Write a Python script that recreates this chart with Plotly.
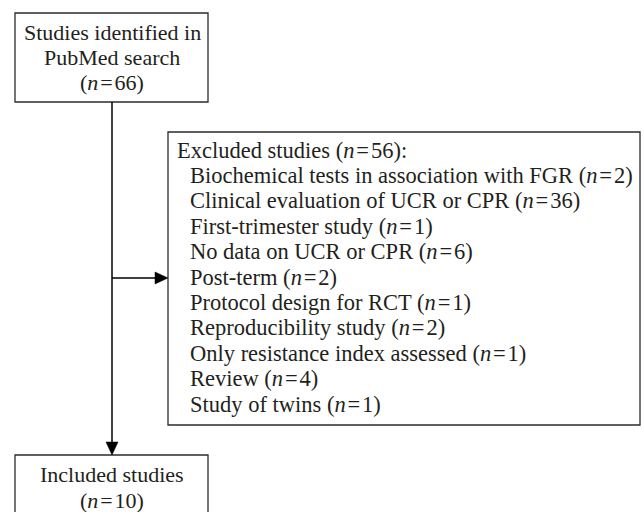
import plotly.graph_objects as go

# ---- data ----
identified_label = ["Studies identified in", "PubMed search"]
identified_n = 66
excluded_label = "Excluded studies"
excluded_n = 56
reasons = [
    "Biochemical tests in association with FGR",
    "Clinical evaluation of UCR or CPR",
    "First-trimester study",
    "No data on UCR or CPR",
    "Post-term",
    "Protocol design for RCT",
    "Reproducibility study",
    "Only resistance index assessed",
    "Review",
    "Study of twins",
]
reason_counts = [2, 36, 1, 6, 2, 1, 2, 1, 4, 1]
included_label = ["Included studies"]
included_n = 10

# ---- layout constants (pixels of the 644x512 page) ----
W, H = 644, 512
FONT = "Liberation Serif"
FS = 22
TXT = "#231f20"
LINE = "#2b2b2b"
LH = 25.4

def nstr(n):
    return "(<i>n</i>\u200a=\u200a%d)" % n

fig = go.Figure()
fig.add_trace(go.Scatter(x=[0, W], y=[0, H], mode="markers",
                         marker=dict(opacity=0), hoverinfo="skip", showlegend=False))

shapes = []
ann = []

def box(x0, y0, x1, y1):
    shapes.append(dict(type="rect", x0=x0, y0=y0, x1=x1, y1=y1,
                       line=dict(color=LINE, width=1.3), fillcolor="rgba(0,0,0,0)"))

def text(x, y, s, anchor="center", size=FS):
    ann.append(dict(x=x, y=y, xref="x", yref="y", text=s, showarrow=False,
                    xanchor=anchor, yanchor="middle",
                    font=dict(family=FONT, size=size, color=TXT)))

# top box
box(15, 13, 208, 102)
top_lines = identified_label + [nstr(identified_n)]
for i, s in enumerate(top_lines):
    text(112, 32 + i * LH, s)

# excluded box
box(168, 132, 640, 425)
text(175, 150, "%s %s:" % (excluded_label, nstr(excluded_n)), anchor="left", size=22.5)
for i, (r, c) in enumerate(zip(reasons, reason_counts)):
    text(188, 150 + (i + 1) * LH, "%s %s" % (r, nstr(c)), anchor="left", size=22.5)

# bottom box (extends past bottom edge)
box(15, 455, 208, 540)
bot_lines = included_label + [nstr(included_n)]
for i, s in enumerate(bot_lines):
    text(112, 474 + i * 26, s)

# connectors
shapes.append(dict(type="line", x0=112, y0=102, x1=112, y1=444,
                   line=dict(color="black", width=1.5)))
shapes.append(dict(type="line", x0=112, y0=278, x1=158, y1=278,
                   line=dict(color="black", width=1.5)))
# arrowheads
shapes.append(dict(type="path", path="M 106 442 L 118 442 L 112 455 Z",
                   fillcolor="black", line=dict(color="black", width=0.5)))
shapes.append(dict(type="path", path="M 155 272 L 155 284 L 168 278 Z",
                   fillcolor="black", line=dict(color="black", width=0.5)))

fig.update_layout(
    width=W, height=H, margin=dict(l=0, r=0, t=0, b=0),
    paper_bgcolor="white", plot_bgcolor="white",
    xaxis=dict(range=[0, W], visible=False, fixedrange=True),
    yaxis=dict(range=[H, 0], visible=False, fixedrange=True),
    shapes=shapes, annotations=ann, showlegend=False,
)
fig.write_html(
    "out.html",
    config={"displayModeBar": False, "staticPlot": True},
    post_script="document.body.style.margin='0';document.body.style.overflow='hidden';",
)
